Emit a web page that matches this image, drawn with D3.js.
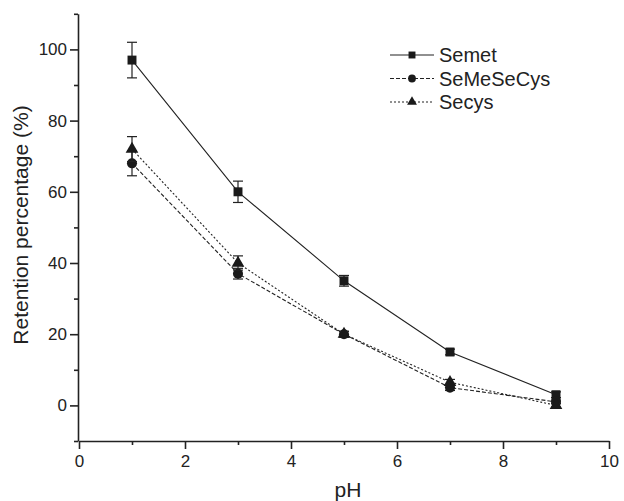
<!DOCTYPE html>
<html><head><meta charset="utf-8">
<script src="https://cdn.jsdelivr.net/npm/d3@7/dist/d3.min.js"></script>
<style>body{margin:0;background:#fff}svg{display:block;font-family:"Liberation Sans",Arial,sans-serif}</style>
</head><body><svg id="c" width="624" height="501"></svg>
<script>
const pH = [1, 3, 5, 7, 9];
const semet = [97, 60, 35, 15, 3];
const semetErr = [5, 3, 1.5, 0.8, 0.8];
const semesecys = [68, 37, 20, 5, 1];
const semesecysErr = [3.5, 1.5, 0.8, 0.8, 0.5];
const secys = [72, 40, 20, 6.5, 0];
const secysErr = [3.5, 2, 0.8, 0.8, 0.5];
const xTicks = [0, 2, 4, 6, 8, 10];
const yTicks = [0, 20, 40, 60, 80, 100];
const seriesNames = ["Semet", "SeMeSeCys", "Secys"];

const svg = d3.select("#c");
const x = d3.scaleLinear().domain([0, 10]).range([79, 609]);
const y = d3.scaleLinear().domain([-10, 110]).range([441, 13.8]);

const series = [
  {name: seriesNames[0], v: semet, e: semetErr, dash: null, sym: d3.symbolSquare, size: 80},
  {name: seriesNames[1], v: semesecys, e: semesecysErr, dash: "4,2", sym: d3.symbolCircle, size: 80},
  {name: seriesNames[2], v: secys, e: secysErr, dash: "2,2", sym: d3.symbolTriangle, size: 70}
];

// axes
svg.append("g").attr("transform", "translate(0,441)")
  .call(d3.axisBottom(x).tickValues(xTicks).tickSize(8).tickSizeOuter(0).tickPadding(6));
svg.append("g").attr("transform", "translate(0,441)")
  .call(d3.axisBottom(x).tickValues([1,3,5,7,9]).tickSize(4).tickFormat("").tickSizeOuter(0))
  .select(".domain").remove();
svg.append("g").attr("transform", "translate(78,0)")
  .call(d3.axisLeft(y).tickValues(yTicks).tickSize(8).tickSizeOuter(0).tickPadding(3));
svg.append("g").attr("transform", "translate(78,0)")
  .call(d3.axisLeft(y).tickValues([-10,10,30,50,70,90,110]).tickSize(4).tickFormat("").tickSizeOuter(0))
  .select(".domain").remove();
svg.selectAll(".domain, .tick line").attr("stroke", "#222").attr("stroke-width", 1.6);
svg.selectAll(".tick text").attr("font-size", 17).attr("fill", "#222").attr("font-family", '"Liberation Sans",Arial,sans-serif');

svg.append("text").attr("x", 348).attr("y", 497).attr("text-anchor", "middle")
  .attr("font-size", 21).attr("fill", "#222").text("pH");
svg.append("text").attr("transform", "translate(28,225) rotate(-90)").attr("text-anchor", "middle")
  .attr("font-size", 21).attr("fill", "#222").text("Retention percentage (%)");

const line = d3.line().x((d, i) => x(pH[i])).y(d => y(d));
series.forEach(s => {
  svg.append("path").datum(s.v).attr("d", line).attr("fill", "none")
    .attr("stroke", "#222").attr("stroke-width", 1.1).attr("stroke-dasharray", s.dash);
  const g = svg.append("g");
  s.v.forEach((v, i) => {
    const cx = x(pH[i]);
    const top = y(v + s.e[i]), bot = y(v - s.e[i]);
    g.append("line").attr("x1", cx).attr("x2", cx).attr("y1", top).attr("y2", bot).attr("stroke", "#222").attr("stroke-width", 1.2);
    g.append("line").attr("x1", cx - 5).attr("x2", cx + 5).attr("y1", top).attr("y2", top).attr("stroke", "#222").attr("stroke-width", 1.2);
    g.append("line").attr("x1", cx - 5).attr("x2", cx + 5).attr("y1", bot).attr("y2", bot).attr("stroke", "#222").attr("stroke-width", 1.2);
    g.append("path").attr("d", d3.symbol().type(s.sym).size(s.size)())
      .attr("transform", `translate(${cx},${y(v)})`).attr("fill", "#1a1a1a");
  });
});

// legend
series.forEach((s, i) => {
  const ly = 55 + i * 23.5;
  svg.append("line").attr("x1", 390).attr("x2", 434).attr("y1", ly).attr("y2", ly)
    .attr("stroke", "#222").attr("stroke-width", 1.1).attr("stroke-dasharray", s.dash);
  svg.append("path").attr("d", d3.symbol().type(s.sym).size(s.size * 0.6)())
    .attr("transform", `translate(412,${ly})`).attr("fill", "#1a1a1a");
  svg.append("text").attr("x", 439).attr("y", ly + 7).attr("font-size", 20).attr("fill", "#222").text(s.name);
});
</script></body></html>
